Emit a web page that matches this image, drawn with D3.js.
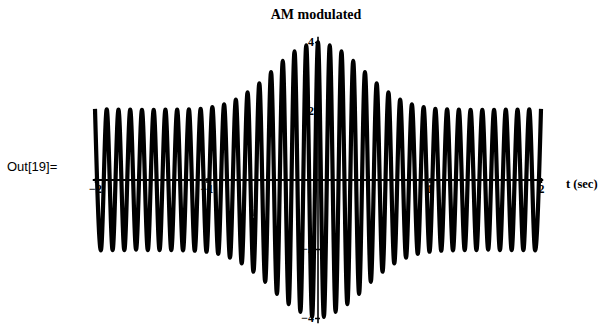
<!DOCTYPE html>
<html>
<head>
<meta charset="utf-8">
<script src="https://cdn.jsdelivr.net/npm/d3@7"></script>
<style>
  body { margin: 0; background: #fff; }
  svg { display: block; }
</style>
</head>
<body>
<svg id="chart"></svg>
<script>
const width = 608;
const height = 325;

// extrema of the carrier (one every half cycle)
const extremaTime = [
  -2.0, -1.9474, -1.8947, -1.8421, -1.7895, -1.7368, -1.6842, -1.6316, -1.5789, -1.5263,
  -1.4737, -1.4211, -1.3684, -1.3158, -1.2632, -1.2105, -1.1579, -1.1053, -1.0526, -1.0,
  -0.9474, -0.8947, -0.8421, -0.7895, -0.7368, -0.6842, -0.6316, -0.5789, -0.5263, -0.4737,
  -0.4211, -0.3684, -0.3158, -0.2632, -0.2105, -0.1579, -0.1053, -0.0526, 0,
  0.0526, 0.1053, 0.1579, 0.2105, 0.2632, 0.3158, 0.3684, 0.4211, 0.4737, 0.5263,
  0.5789, 0.6316, 0.6842, 0.7368, 0.7895, 0.8421, 0.8947, 0.9474, 1.0, 1.0526,
  1.1053, 1.1579, 1.2105, 1.2632, 1.3158, 1.3684, 1.4211, 1.4737, 1.5263, 1.5789,
  1.6316, 1.6842, 1.7368, 1.7895, 1.8421, 1.8947, 1.9474, 2.0
];
const extremaValue = [
  2.06, -2.04, 2.05, -2.03, 2.04, -2.03, 2.04, -2.02, 2.03, -2.03,
  2.03, -2.03, 2.04, -2.03, 2.04, -2.04, 2.05, -2.05, 2.06, -2.08,
  2.11, -2.14, 2.19, -2.25, 2.33, -2.42, 2.54, -2.66, 2.8, -2.95,
  3.13, -3.3, 3.45, -3.6, 3.73, -3.82, 3.9, -3.97, 4.0,
  -3.97, 3.9, -3.82, 3.73, -3.6, 3.45, -3.3, 3.13, -2.95, 2.8,
  -2.66, 2.54, -2.42, 2.33, -2.25, 2.19, -2.14, 2.11, -2.08, 2.06,
  -2.05, 2.05, -2.04, 2.04, -2.03, 2.03, -2.03, 2.03, -2.02, 2.03,
  -2.03, 2.04, -2.03, 2.04, -2.03, 2.05, -2.04, 2.06
];

const xTicks = [-2, -1, 1, 2];
const yTicks = [-4, -2, 2, 4];

const svg = d3.select('#chart')
  .attr('width', width)
  .attr('height', height);

const xScale = d3.scaleLinear().domain([-2, 2]).range([95, 541]);
const yScale = d3.scaleLinear().domain([-4, 4]).range([318, 42]);

// title and labels
svg.append('text')
  .attr('x', 316)
  .attr('y', 19)
  .attr('text-anchor', 'middle')
  .style('font-family', '"Liberation Serif", serif')
  .style('font-weight', 'bold')
  .style('font-size', '14px')
  .text('AM modulated');

svg.append('text')
  .attr('x', 7)
  .attr('y', 171)
  .style('font-family', '"Liberation Sans", Arial, sans-serif')
  .style('font-size', '13px')
  .text('Out[19]=');

svg.append('text')
  .attr('x', 566)
  .attr('y', 188)
  .style('font-family', '"Liberation Serif", serif')
  .style('font-weight', 'bold')
  .style('font-size', '12.5px')
  .text('t (sec)');

// the signal
const points = extremaTime.map((t, i) => [t, extremaValue[i]]);
const line = d3.line()
  .x(d => xScale(d[0]))
  .y(d => yScale(d[1]))
  .curve(d3.curveMonotoneX);

svg.append('path')
  .datum(points)
  .attr('d', line)
  .attr('fill', 'none')
  .attr('stroke', '#000')
  .attr('stroke-width', 4.2)
  .attr('stroke-linejoin', 'round');

// axes, Mathematica style: lines through the origin
const axes = svg.append('g').attr('stroke', '#000');
axes.append('line')
  .attr('x1', xScale(-2.02)).attr('x2', xScale(2.02))
  .attr('y1', yScale(0)).attr('y2', yScale(0))
  .attr('stroke-width', 2);
axes.append('line')
  .attr('x1', xScale(0)).attr('x2', xScale(0))
  .attr('y1', yScale(4.15)).attr('y2', yScale(-4.15))
  .attr('stroke-width', 1.6);

const xAxis = d3.axisBottom(xScale)
  .tickValues(xTicks)
  .tickFormat(d3.format('d'))
  .tickSize(5)
  .tickPadding(1);
const xg = svg.append('g')
  .attr('transform', `translate(0, ${yScale(0) - 2})`)
  .call(xAxis);
xg.select('.domain').remove();
xg.selectAll('line').attr('stroke-width', 1.5);
xg.selectAll('text')
  .style('font-family', '"Liberation Serif", serif')
  .style('font-weight', 'bold')
  .style('font-size', '12px')
  .attr('fill', '#000');

const yAxis = d3.axisLeft(yScale)
  .tickValues(yTicks)
  .tickFormat(d3.format('d'))
  .tickSize(5)
  .tickPadding(1);
const yg = svg.append('g')
  .attr('transform', `translate(${xScale(0) + 2}, 0)`)
  .call(yAxis);
yg.select('.domain').remove();
yg.selectAll('line').attr('stroke-width', 1.5);
yg.selectAll('text')
  .style('font-family', '"Liberation Serif", serif')
  .style('font-weight', 'bold')
  .style('font-size', '12px')
  .attr('fill', '#000');
</script>
</body>
</html>
